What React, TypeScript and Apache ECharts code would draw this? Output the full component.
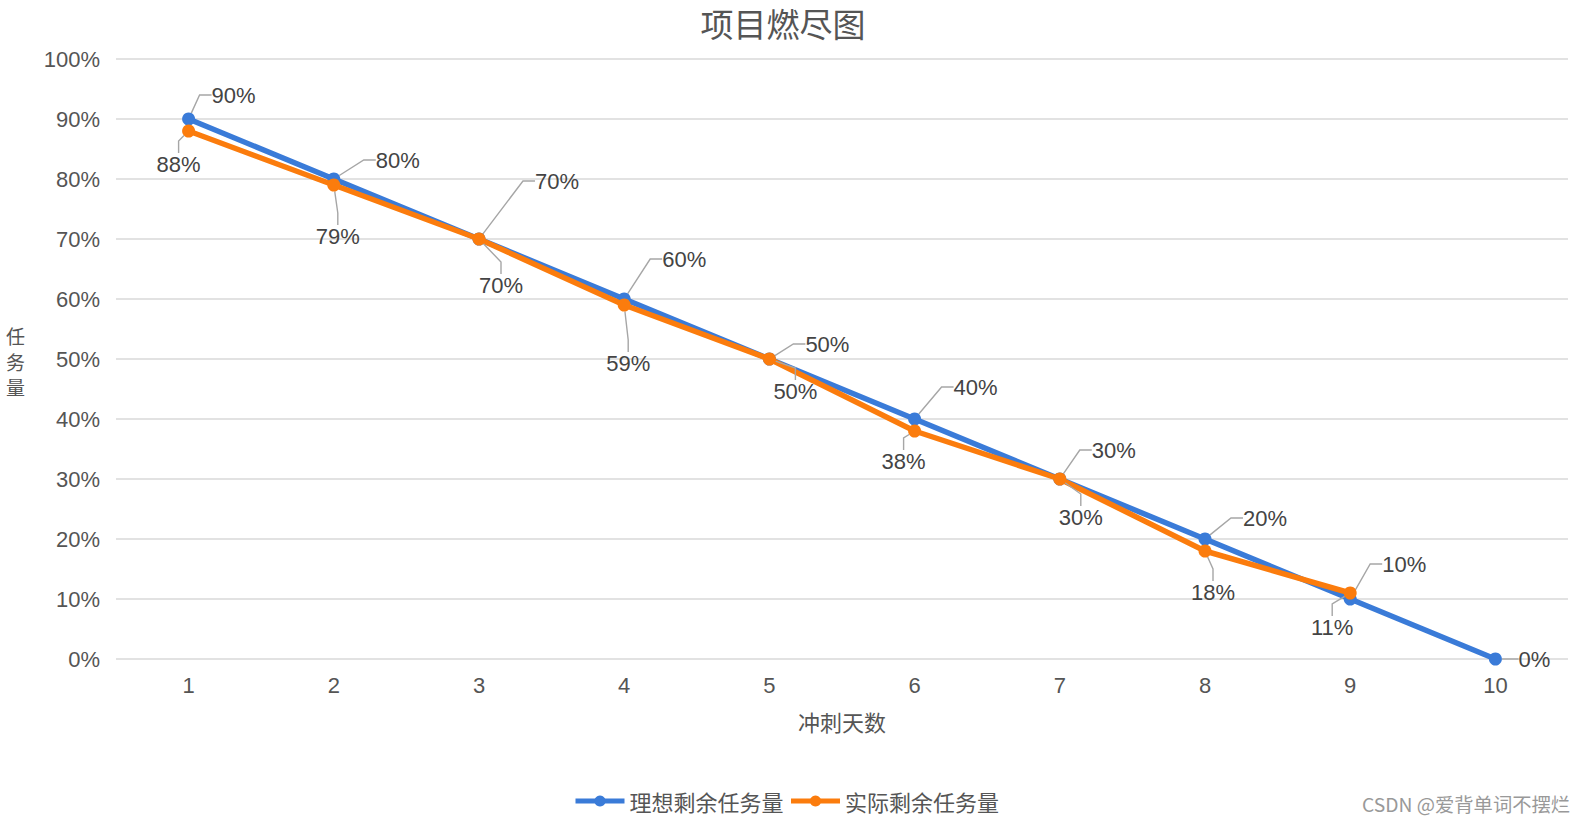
import React, { useEffect, useRef } from "react";
import * as echarts from "echarts";

const days = ["1", "2", "3", "4", "5", "6", "7", "8", "9", "10"];
const idealRemaining = [90, 80, 70, 60, 50, 40, 30, 20, 10, 0];
const actualRemaining = [88, 79, 70, 59, 50, 38, 30, 18, 11];
const seriesNames = ["理想剩余任务量", "实际剩余任务量"];

// label placement offsets (label centre relative to its point), in pixels
const idealLabelOffsets = [
  [45, -24], [64, -19], [78, -58], [60, -40], [58, -15],
  [61, -32], [54, -29], [60, -21], [54, -35], [39, 0],
];
const actualLabelOffsets = [
  [-10, 33], [4, 51], [22, 46], [4, 58], [26, 32],
  [-11, 30], [21, 38], [8, 41], [-18, 34],
];

const LATIN = "'Liberation Sans', Arial, 'Noto Sans CJK SC', sans-serif";
const CJK = "'Noto Sans CJK SC', 'Liberation Sans', sans-serif";

export default function App() {
  const ref = useRef<HTMLDivElement>(null);

  useEffect(() => {
    document.body.style.margin = "0";
    if (!ref.current) return;
    const chart = echarts.init(ref.current, null, { renderer: "svg" });

    const labelStyle = {
      show: true,
      position: "inside" as const,
      formatter: "{c}%",
      color: "#444",
      fontSize: 22,
      fontFamily: LATIN,
    };
    const labelLine = {
      show: true,
      length2: 12,
      lineStyle: { color: "#a6a6a6", width: 1.4 },
    };

    chart.setOption({
      animation: false,
      backgroundColor: "#ffffff",
      title: {
        text: "项目燃尽图",
        left: 783,
        textAlign: "center",
        top: 5,
        padding: 0,
        textStyle: { fontSize: 33, lineHeight: 36, fontWeight: "normal", color: "#555", fontFamily: CJK },
      },
      legend: {
        left: 568,
        top: 783,
        itemWidth: 49,
        itemHeight: 14,
        itemGap: 5,
        lineStyle: { width: 5 },
        textStyle: { fontSize: 22, color: "#555", fontFamily: CJK, lineHeight: 26 },
        data: seriesNames,
      },
      grid: { left: 116, right: 20, top: 59, bottom: 165 },
      xAxis: {
        type: "category",
        data: days,
        boundaryGap: true,
        name: "冲刺天数",
        nameLocation: "middle",
        nameGap: 51,
        nameTextStyle: { fontSize: 22, color: "#555", fontFamily: CJK },
        axisLine: { show: false },
        axisTick: { show: false },
        axisLabel: { color: "#555", fontSize: 22, margin: 15, fontFamily: LATIN },
      },
      yAxis: {
        type: "value",
        min: 0,
        max: 100,
        interval: 10,
        axisLine: { show: false },
        axisTick: { show: false },
        axisLabel: { formatter: "{value}%", color: "#555", fontSize: 22, margin: 16, fontFamily: LATIN },
        splitLine: { lineStyle: { color: "#d9d9d9", width: 1.5 } },
      },
      graphic: [
        {
          type: "text",
          left: 6,
          top: 323,
          style: {
            text: "任\n务\n量",
            fontSize: 19,
            lineHeight: 25.5,
            fill: "#555",
            fontFamily: CJK,
          },
        },
        {
          type: "text",
          right: 18,
          top: 794,
          style: {
            text: "CSDN @爱背单词不摆烂",
            fontSize: 19.3,
            fill: "#999",
            fontFamily: CJK,
          },
        },
      ],
      series: [
        {
          name: seriesNames[0],
          type: "line",
          data: idealRemaining,
          color: "#3a7bd8",
          symbol: "circle",
          symbolSize: 13,
          lineStyle: { width: 5.5 },
          label: labelStyle,
          labelLine,
          labelLayout: (p: any) => {
            const o = idealLabelOffsets[p.dataIndex] || [0, 0];
            return { dx: o[0], dy: o[1] };
          },
          z: 2,
        },
        {
          name: seriesNames[1],
          type: "line",
          data: actualRemaining,
          color: "#fb7c0d",
          symbol: "circle",
          symbolSize: 13,
          lineStyle: { width: 5.5 },
          label: labelStyle,
          labelLine,
          labelLayout: (p: any) => {
            const o = actualLabelOffsets[p.dataIndex] || [0, 0];
            return { dx: o[0], dy: o[1] };
          },
          z: 3,
        },
      ],
    });

    return () => chart.dispose();
  }, []);

  return <div ref={ref} style={{ width: 1588, height: 824 }} />;
}
